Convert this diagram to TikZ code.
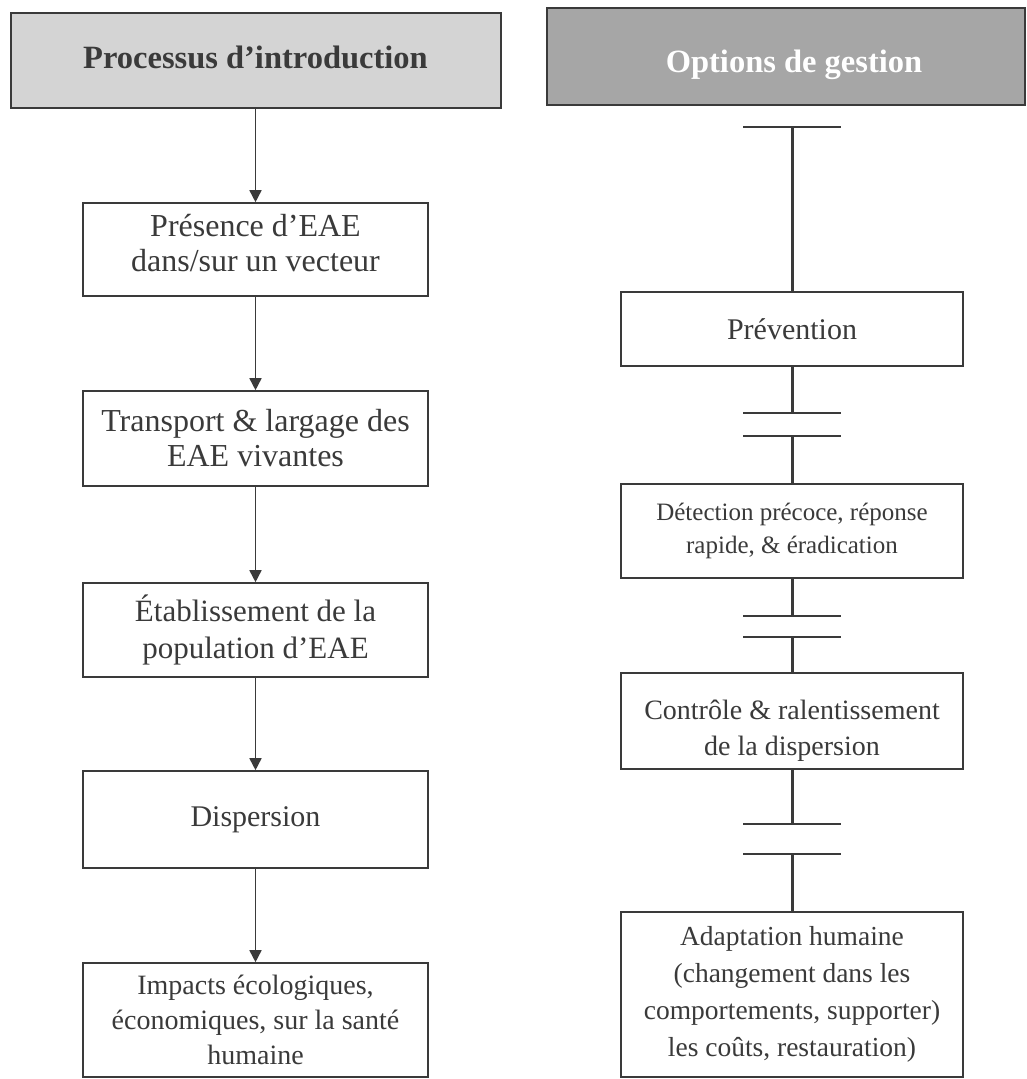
\documentclass[tikz,border=0pt]{standalone}
\usepackage{fontspec}
\setmainfont{Liberation Serif}
\usetikzlibrary{arrows.meta}
\definecolor{ink}{HTML}{3A3A3A}
\definecolor{hdrA}{HTML}{D4D4D4}
\definecolor{hdrB}{HTML}{A6A6A6}
\begin{document}
\begin{tikzpicture}[x=1pt,y=-1pt,
  hdr/.style={draw=ink, line width=2pt, inner sep=0pt, align=center, font=\fontsize{32.5}{38}\selectfont\bfseries},
  lbox/.style={draw=ink, line width=1.6pt, fill=white, minimum width=345pt, align=center, text=ink, inner sep=0pt, font=\fontsize{32}{35}\selectfont},
  rbox/.style={draw=ink, line width=2pt, fill=white, minimum width=342pt, align=center, text=ink, inner sep=0pt},
  larrow/.style={draw=ink, line width=1.6pt, -{Triangle[width=12pt,length=12pt]}},
  rline/.style={draw=ink, line width=3pt},
  rbar/.style={draw=ink, line width=2pt}]
\useasboundingbox (0,0) rectangle (1026,1079);
\clip (0,0) rectangle (1026,1079);

% headers
\node[hdr, fill=hdrA, text=ink, minimum width=490pt, minimum height=95pt] (hL) at (255.5,60.5) {\raisebox{-8pt}[0pt][0pt]{Processus d’introduction}};
\node[hdr, fill=hdrB, text=white, minimum width=478pt, minimum height=97pt] (hR) at (786,56.5) {\raisebox{-16pt}[0pt][0pt]{\hspace*{16pt}Options de gestion}};

% left column
\node[lbox, minimum height=93pt] (b1) at (255.5,249.5) {Présence d’EAE\\dans/sur un vecteur\\[-22pt]\mbox{}};
\node[lbox, minimum height=95pt] (b2) at (255.5,438.5) {Transport \& largage des\\EAE vivantes};
\node[lbox, minimum height=94pt, font=\fontsize{31}{37}\selectfont] (b3) at (255.5,630) {Établissement de la\\population d’EAE};
\node[lbox, minimum height=97pt, font=\fontsize{30}{36}\selectfont] (b4) at (255.5,819.5) {Dispersion};
\node[lbox, minimum height=114pt, font=\fontsize{28}{35}\selectfont] (b5) at (255.5,1020) {Impacts écologiques,\\économiques, sur la santé\\humaine};

\draw[larrow] (hL.south) -- (b1.north);
\draw[larrow] (b1.south) -- (b2.north);
\draw[larrow] (b2.south) -- (b3.north);
\draw[larrow] (b3.south) -- (b4.north);
\draw[larrow] (b4.south) -- (b5.north);

% right column
\node[rbox, minimum height=74pt, font=\fontsize{30}{35}\selectfont] (r1) at (792,329) {Prévention};
\node[rbox, minimum height=94pt, font=\fontsize{25}{33}\selectfont] (r2) at (792,531) {Détection précoce, réponse\\rapide, \& éradication};
\node[rbox, minimum height=96pt, font=\fontsize{28}{36}\selectfont] (r3) at (792,721) {\mbox{}\\[2pt]Contrôle \& ralentissement\\de la dispersion};
\node[rbox, minimum height=165pt, font=\fontsize{27.5}{37}\selectfont] (r4) at (792,994.5) {Adaptation humaine\\(changement dans les\\comportements, supporter)\\les coûts, restauration)};

\coordinate (g0) at (792,127);
\coordinate (g1a) at (792,413);
\coordinate (g1b) at (792,436);
\coordinate (g2a) at (792,616);
\coordinate (g2b) at (792,637);
\coordinate (g3a) at (792,824);
\coordinate (g3b) at (792,854);

\draw[rbar] ([xshift=-49pt]g0) -- ([xshift=49pt]g0);
\draw[rline] (g0) -- (r1.north);

\draw[rline] (r1.south) -- (g1a);
\draw[rbar] ([xshift=-49pt]g1a) -- ([xshift=49pt]g1a);
\draw[rbar] ([xshift=-49pt]g1b) -- ([xshift=49pt]g1b);
\draw[rline] (g1b) -- (r2.north);

\draw[rline] (r2.south) -- (g2a);
\draw[rbar] ([xshift=-49pt]g2a) -- ([xshift=49pt]g2a);
\draw[rbar] ([xshift=-49pt]g2b) -- ([xshift=49pt]g2b);
\draw[rline] (g2b) -- (r3.north);

\draw[rline] (r3.south) -- (g3a);
\draw[rbar] ([xshift=-49pt]g3a) -- ([xshift=49pt]g3a);
\draw[rbar] ([xshift=-49pt]g3b) -- ([xshift=49pt]g3b);
\draw[rline] (g3b) -- (r4.north);
\end{tikzpicture}
\end{document}
